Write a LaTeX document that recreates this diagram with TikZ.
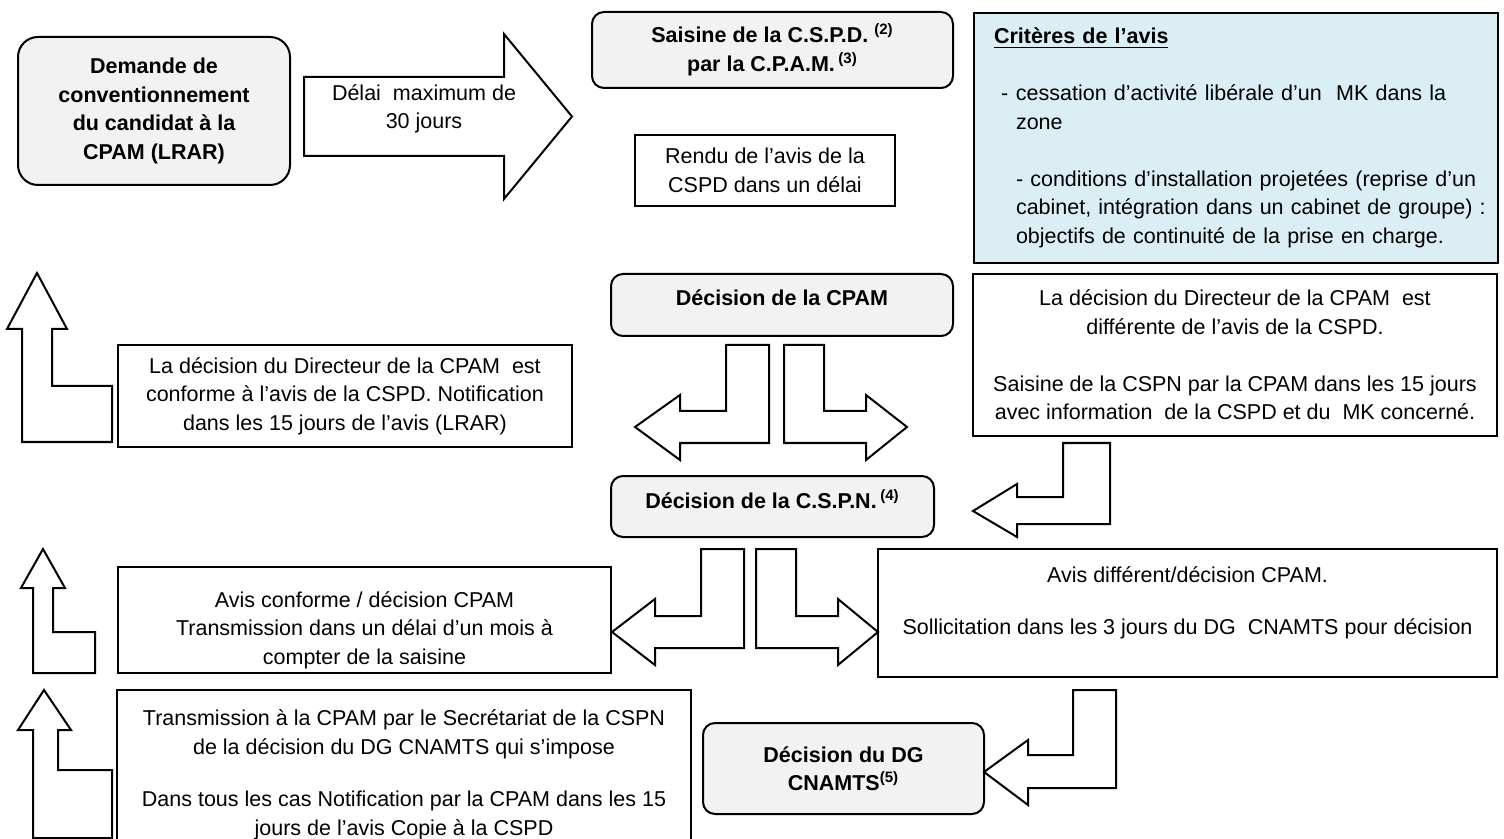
\documentclass[tikz,border=0pt]{standalone}
\usepackage{fontspec}
\setmainfont{Liberation Sans}
\usepackage{xcolor}
\usepackage{tikz}

\definecolor{boxgray}{HTML}{F2F2F2}
\definecolor{critblue}{HTML}{DBEEF4}

\begin{document}
\begin{tikzpicture}[x=0.5pt, y=-0.5pt, line width=1pt,
  txt/.style={font=\fontsize{10.75}{14.25}\selectfont, align=center},
  boldtxt/.style={txt, font=\fontsize{10.75}{14.25}\selectfont\bfseries},
  plainbox/.style={txt, draw, fill=white, inner sep=0pt},
  graybox/.style={plainbox, fill=boxgray, rounded corners=6pt, font=\fontsize{10.75}{14.25}\selectfont\bfseries},
  blockarrow/.style={draw, fill=white, line join=miter}]
 \useasboundingbox (0, 0) rectangle (1504, 839);

 \node [graybox, rounded corners=10pt, minimum width=136pt, minimum height=74pt] (demande) at (154, 111) {Demande de\\conventionnement\\du candidat à la\\CPAM (LRAR)};
 \draw [blockarrow] (304, 77) -- (504, 77) -- (504, 34) -- (572, 116.5) -- (504, 199) -- (504, 156) -- (304, 156) -- cycle;
 \node [txt] (delai) at (424, 109) {Délai~ maximum de\\30 jours};

 \node [graybox, minimum width=180.5pt, minimum height=38pt] (saisine) at (772.5, 50) {Saisine de la C.S.P.D. \textsuperscript{(2)}\\par la C.P.A.M.\,\textsuperscript{(3)}};
 \node [plainbox, minimum width=130pt, minimum height=35.5pt] (rendu) at (765, 170.5) {Rendu de l’avis de la\\CSPD dans un délai};

 \node [plainbox, fill=critblue, align=left, anchor=north west, text width=248pt, inner xsep=7pt, minimum height=125pt] (criteres) at (973, 12) {\mbox{\hspace*{3pt}\underline{\textbf{Critères de l’avis}}}\\[14.25pt]
  \mbox{\makebox[14pt][l]{\hspace*{6.5pt}-}cessation d’activité libérale d’un\ \ MK dans la}\\
  \mbox{\hspace*{14pt}zone}\\[14.25pt]
  \mbox{\hspace*{14pt}- conditions d’installation projetées (reprise d’un}\\
  \mbox{\hspace*{14pt}cabinet, intégration dans un cabinet de groupe) :}\\
  \mbox{\hspace*{14pt}objectifs de continuité de la prise en charge.}};

 \node [plainbox, minimum width=262pt, minimum height=81pt] (differente) at (1235, 355) {La décision du Directeur de la CPAM\ \ est\\différente de l’avis de la CSPD.\\[14.25pt]Saisine de la CSPN par la CPAM dans les 15 jours\\avec information\ \ de la CSPD et du\ \ MK concerné.};
 \node [graybox, minimum width=171pt, minimum height=31pt, label={[boldtxt, yshift=3.5pt]center:Décision de la CPAM}] (cpam) at (782, 305) {};
 \node [plainbox, minimum width=227pt, minimum height=51pt] (conforme) at (345, 396) {La décision du Directeur de la CPAM\ \ est\\conforme à l’avis de la CSPD. Notification\\dans les 15 jours de l’avis (LRAR)};

 \draw [blockarrow] (22, 442) -- (22, 329) -- (7, 329) -- (37, 273) -- (67, 329) -- (52, 329) -- (52, 386) -- (112, 386) -- (112, 442) -- cycle;
 \draw [blockarrow] (769, 345) -- (769, 443) -- (680, 443) -- (680, 460) -- (635, 427) -- (680, 395) -- (680, 411) -- (726, 411) -- (726, 345) -- cycle;
 \draw [blockarrow] (784, 345) -- (784, 443) -- (866, 443) -- (866, 460) -- (907, 427) -- (866, 395) -- (866, 411) -- (824, 411) -- (824, 345) -- cycle;
 \draw [blockarrow] (1063, 443) -- (1110, 443) -- (1110, 524) -- (1017, 524) -- (1017, 537) -- (973, 511) -- (1017, 484) -- (1017, 497) -- (1063, 497) -- cycle;

 \node [graybox, minimum width=161.5pt, minimum height=30.5pt, label={[boldtxt, yshift=3.5pt]center:Décision de la C.S.P.N.\,\textsuperscript{(4)}}] (cspn) at (772.5, 506.5) {};

 \node [plainbox, minimum width=246.5pt, minimum height=53pt, label={[txt, yshift=-5pt]center:{Avis conforme / décision CPAM\\Transmission dans un délai d’un mois à\\compter de la saisine}}] (avisconf) at (364.5, 620) {};
 \node [plainbox, minimum width=309.5pt, minimum height=64pt, label={[txt, yshift=5pt]center:{Avis différent/décision CPAM.\\[12pt]Sollicitation dans les 3 jours du DG\ \ CNAMTS pour décision}}] (avisdiff) at (1187.5, 613) {};
 \draw [blockarrow] (701, 549) -- (744, 549) -- (744, 648) -- (655, 648) -- (655, 665) -- (612, 632) -- (655, 599) -- (655, 616) -- (701, 616) -- cycle;
 \draw [blockarrow] (756, 549) -- (796, 549) -- (796, 616) -- (838, 616) -- (838, 599) -- (878, 632) -- (838, 665) -- (838, 648) -- (756, 648) -- cycle;
 \draw [blockarrow] (33, 673) -- (33, 588) -- (21, 588) -- (43, 549) -- (65, 588) -- (53, 588) -- (53, 632) -- (95, 632) -- (95, 673) -- cycle;

 \node [plainbox, minimum width=287pt, minimum height=75pt, label={[txt, yshift=-5pt]center:{Transmission à la CPAM par le Secrétariat de la CSPN\\de la décision du DG CNAMTS qui s’impose\\[12pt]Dans tous les cas Notification par la CPAM dans les 15\\jours de l’avis Copie à la CSPD}}] (transmission) at (404, 765) {};
 \node [graybox, minimum width=140.5pt, minimum height=45.5pt] (dg) at (843.5, 768.5) {Décision du DG\\CNAMTS\textsuperscript{(5)}};
 \draw [blockarrow] (1073, 690) -- (1116, 690) -- (1116, 788) -- (1028, 788) -- (1028, 805) -- (984, 772) -- (1028, 740) -- (1028, 755) -- (1073, 755) -- cycle;
 \draw [blockarrow] (33, 838) -- (33, 730) -- (18, 730) -- (44, 690) -- (71, 730) -- (58, 730) -- (58, 770) -- (112, 770) -- (112, 838) -- cycle;
\end{tikzpicture}
\end{document}
